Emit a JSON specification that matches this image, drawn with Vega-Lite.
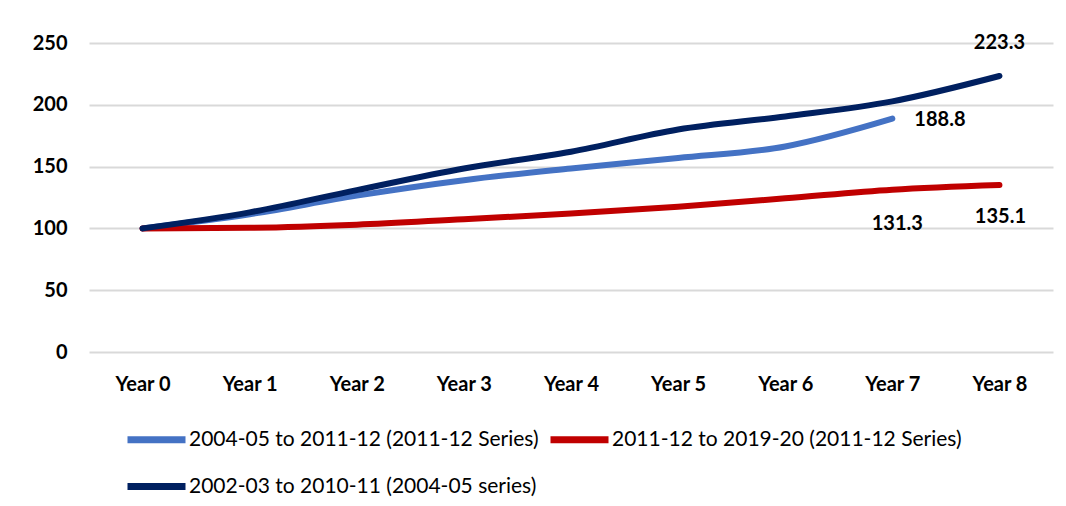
{
  "$schema": "https://vega.github.io/schema/vega-lite/v6.json",
  "width": 964,
  "height": 309,
  "autosize": {"type": "none"},
  "padding": {"top": 43, "left": 89, "right": 13, "bottom": 154},
  "background": "white",
  "config": {
    "view": {"stroke": null},
    "font": "Lato",
    "axis": {"labelFont": "Lato", "labelFontWeight": "bold", "labelFontSize": 20, "labelColor": "#000000"},
    "legend": {"rowPadding": -21}
  },
  "data": {
    "values": [
      {"year": "Year 0", "series": "2004-05 to 2011-12 (2011-12 Series)", "value": 100},
      {"year": "Year 1", "series": "2004-05 to 2011-12 (2011-12 Series)", "value": 111.5},
      {"year": "Year 2", "series": "2004-05 to 2011-12 (2011-12 Series)", "value": 126.5},
      {"year": "Year 3", "series": "2004-05 to 2011-12 (2011-12 Series)", "value": 139},
      {"year": "Year 4", "series": "2004-05 to 2011-12 (2011-12 Series)", "value": 148.5},
      {"year": "Year 5", "series": "2004-05 to 2011-12 (2011-12 Series)", "value": 157},
      {"year": "Year 6", "series": "2004-05 to 2011-12 (2011-12 Series)", "value": 166.3},
      {"year": "Year 7", "series": "2004-05 to 2011-12 (2011-12 Series)", "value": 188.8},
      {"year": "Year 0", "series": "2011-12 to 2019-20 (2011-12 Series)", "value": 100},
      {"year": "Year 1", "series": "2011-12 to 2019-20 (2011-12 Series)", "value": 100.5},
      {"year": "Year 2", "series": "2011-12 to 2019-20 (2011-12 Series)", "value": 103},
      {"year": "Year 3", "series": "2011-12 to 2019-20 (2011-12 Series)", "value": 107.5},
      {"year": "Year 4", "series": "2011-12 to 2019-20 (2011-12 Series)", "value": 112},
      {"year": "Year 5", "series": "2011-12 to 2019-20 (2011-12 Series)", "value": 117.6},
      {"year": "Year 6", "series": "2011-12 to 2019-20 (2011-12 Series)", "value": 124.3},
      {"year": "Year 7", "series": "2011-12 to 2019-20 (2011-12 Series)", "value": 131.3},
      {"year": "Year 8", "series": "2011-12 to 2019-20 (2011-12 Series)", "value": 135.1},
      {"year": "Year 0", "series": "2002-03 to 2010-11 (2004-05 series)", "value": 100},
      {"year": "Year 1", "series": "2002-03 to 2010-11 (2004-05 series)", "value": 113},
      {"year": "Year 2", "series": "2002-03 to 2010-11 (2004-05 series)", "value": 131},
      {"year": "Year 3", "series": "2002-03 to 2010-11 (2004-05 series)", "value": 148.5},
      {"year": "Year 4", "series": "2002-03 to 2010-11 (2004-05 series)", "value": 162},
      {"year": "Year 5", "series": "2002-03 to 2010-11 (2004-05 series)", "value": 180},
      {"year": "Year 6", "series": "2002-03 to 2010-11 (2004-05 series)", "value": 190.6},
      {"year": "Year 7", "series": "2002-03 to 2010-11 (2004-05 series)", "value": 202.8},
      {"year": "Year 8", "series": "2002-03 to 2010-11 (2004-05 series)", "value": 223.3}
    ]
  },
  "encoding": {
    "x": {
      "field": "year", "type": "ordinal",
      "sort": ["Year 0", "Year 1", "Year 2", "Year 3", "Year 4", "Year 5", "Year 6", "Year 7", "Year 8"],
      "axis": {"title": null, "labelAngle": 0, "domain": false, "ticks": false, "grid": false, "labelPadding": 22}
    },
    "y": {
      "field": "value", "type": "quantitative",
      "scale": {"domain": [0, 250], "nice": false, "zero": true},
      "axis": {"title": null, "values": [0, 50, 100, 150, 200, 250], "domain": false, "ticks": false, "grid": true, "gridColor": "#d9d9d9", "gridWidth": 2, "labelPadding": 22}
    }
  },
  "layer": [
    {
      "mark": {"type": "line", "strokeWidth": 6, "strokeCap": "round", "strokeJoin": "round", "interpolate": "monotone"},
      "encoding": {
        "color": {
          "field": "series", "type": "nominal",
          "scale": {
            "domain": ["2004-05 to 2011-12 (2011-12 Series)", "2011-12 to 2019-20 (2011-12 Series)", "2002-03 to 2010-11 (2004-05 series)"],
            "range": ["#4472C4", "#C00000", "#002060"]
          },
          "legend": {
            "title": null, "orient": "none", "legendX": 35, "legendY": 364, "padding": 0,
            "direction": "horizontal", "columns": 2,
            "symbolType": "stroke", "symbolSize": 3364, "symbolStrokeWidth": 7,
            "labelFont": "Lato", "labelFontSize": 21, "labelColor": "#000000", "labelOffset": 0,
            "columnPadding": -3, "rowPadding": -21, "labelLimit": 500
          }
        },
        "order": {"field": "series"}
      }
    },
    {
      "transform": [{"filter": "datum.series == '2002-03 to 2010-11 (2004-05 series)' && datum.year == 'Year 8'"}],
      "mark": {"type": "text", "dy": -33, "fontSize": 20, "fontWeight": "bold", "font": "Lato", "color": "#000000"},
      "encoding": {"text": {"field": "value", "type": "quantitative", "format": ".1f"}}
    },
    {
      "transform": [{"filter": "datum.series == '2004-05 to 2011-12 (2011-12 Series)' && datum.year == 'Year 7'"}],
      "mark": {"type": "text", "dx": 22, "dy": 1, "align": "left", "fontSize": 20, "fontWeight": "bold", "font": "Lato", "color": "#000000"},
      "encoding": {"text": {"field": "value", "type": "quantitative", "format": ".1f"}}
    },
    {
      "transform": [{"filter": "datum.series == '2011-12 to 2019-20 (2011-12 Series)' && datum.year == 'Year 7'"}],
      "mark": {"type": "text", "dx": 5, "dy": 34, "fontSize": 20, "fontWeight": "bold", "font": "Lato", "color": "#000000"},
      "encoding": {"text": {"field": "value", "type": "quantitative", "format": ".1f"}}
    },
    {
      "transform": [{"filter": "datum.series == '2011-12 to 2019-20 (2011-12 Series)' && datum.year == 'Year 8'"}],
      "mark": {"type": "text", "dx": 1, "dy": 32, "fontSize": 20, "fontWeight": "bold", "font": "Lato", "color": "#000000"},
      "encoding": {"text": {"field": "value", "type": "quantitative", "format": ".1f"}}
    }
  ]
}
